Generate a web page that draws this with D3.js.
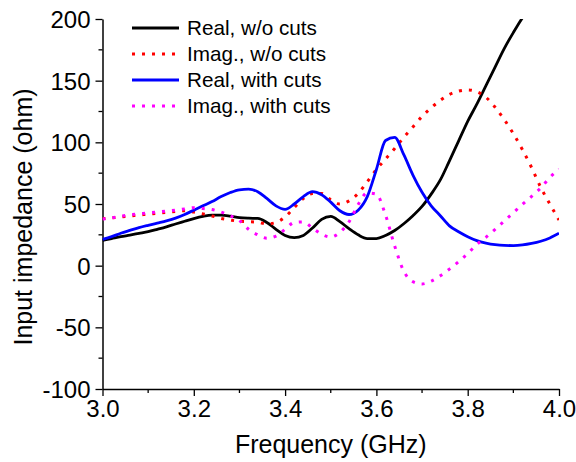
<!DOCTYPE html>
<html>
<head>
<meta charset="utf-8">
<script src="https://cdn.jsdelivr.net/npm/d3@7"></script>
<style>
  body { margin: 0; background: #fff; }
  svg { display: block; font-family: "Liberation Sans", Arial, sans-serif; }
</style>
</head>
<body>
<div id="chart"></div>
<script>
// frequency samples (GHz)
const freq = d3.range(0, 51).map(i => +(3 + i * 0.02).toFixed(2))

// input impedance values (ohm)
const realNoCuts = [20.5, 22, 23.5, 24.8, 26.2, 27.6, 29.5, 31.5, 33.8, 36,
  38.2, 40, 41, 41, 40.2, 39, 38.5, 38.3, 35, 29.5,
  24.5, 22.7, 24.5, 30.5, 37.5, 40, 35.7, 30, 25, 22,
  22, 24.5, 28.5, 34, 40.5, 48, 58, 69.5, 85, 101,
  117, 131, 146, 161, 176, 189, 201, 211, null, null, null]
const imagNoCuts = [38, 38.8, 39.5, 40.3, 41, 41.8, 42.5, 43.3, 44, 44.6,
  43.5, 42, 40.3, 38.3, 37, 36, 35.7, 35.2, 33.8, 35,
  39.5, 47, 54.5, 58.5, 58.5, 53.5, 50, 52.5, 58.5, 68,
  78, 86.5, 95, 104, 112.5, 121, 128, 134, 138.8, 141.5,
  142.5, 141, 136.5, 128.5, 118.5, 107, 94, 79.5, 63.5, 50, 37]
const realCuts = [21.4, 23.5, 26.3, 28.6, 30.8, 32.7, 34.5, 36.3, 38.5, 41.5,
  45, 48.5, 52, 56, 59.3, 61.5, 62, 60, 54.5, 48.5,
  45.7, 50, 56, 60, 57.5, 51.5, 44.5, 41.5, 45, 56,
  78, 101.5, 104, 90, 73.5, 59.5, 48.5, 40.5, 32.3, 27.5,
  23.5, 20.3, 18.3, 17, 16.4, 16.3, 16.8, 18, 19.8, 22.5, 26.3]
const imagCuts = [37.8, 38.8, 40, 41.2, 42, 42.8, 43.5, 44.2, 45, 46,
  47, 46.3, 45.5, 43.5, 40.5, 36.5, 29.5, 25, 22.3, 24,
  29.5, 35, 35.5, 30.5, 25.5, 23.2, 27, 35.5, 49.5, 59,
  58, 41, 16, -4.5, -13, -14.8, -12.5, -8.2, -2.8, 3.2,
  9.8, 17.3, 23, 29.5, 36.2, 43, 49.8, 56.2, 63, 71.5, 78.2]

const seriesNames = ["Real, w/o cuts", "Imag., w/o cuts", "Real, with cuts", "Imag., with cuts"]
const seriesValues = [realNoCuts, imagNoCuts, realCuts, imagCuts]
const seriesColors = ["#000000", "#ff0000", "#0000ff", "#ff00ff"]
const seriesDotted = [false, true, false, true]

const xTicks = [3.0, 3.2, 3.4, 3.6, 3.8, 4.0]
const yTicks = [-100, -50, 0, 50, 100, 150, 200]

const W = 576, H = 462
const margin = {top: 19, right: 17, bottom: 73, left: 102.5}
const width = W - margin.left - margin.right
const height = H - margin.top - margin.bottom

const svg = d3.select("#chart").append("svg")
  .attr("width", W)
  .attr("height", H)

const g = svg.append("g")
  .attr("transform", "translate(" + margin.left + "," + margin.top + ")")

const x = d3.scaleLinear().domain([3.0, 4.0]).range([0, width])
const y = d3.scaleLinear().domain([-100, 200]).range([height, 0])

svg.append("defs").append("clipPath").attr("id", "clip")
  .append("rect").attr("width", width).attr("height", height)

// minor ticks
const xMinor = d3.range(3.1, 4.0, 0.2)
const yMinor = d3.range(-75, 200, 50)

const xAxis = g.append("g")
  .attr("transform", "translate(0," + height + ")")
  .call(d3.axisBottom(x).tickValues(xTicks).tickFormat(d => d.toFixed(1)).tickSize(7).tickSizeOuter(0))
xAxis.append("g").selectAll("line").data(xMinor).join("line")
  .attr("x1", d => x(d)).attr("x2", d => x(d))
  .attr("y1", 0).attr("y2", 4)
  .attr("stroke", "#000").attr("stroke-width", 1.3)

const yAxis = g.append("g")
  .call(d3.axisLeft(y).tickValues(yTicks).tickFormat(d => String(d)).tickSize(7).tickSizeOuter(0))
yAxis.append("g").selectAll("line").data(yMinor).join("line")
  .attr("y1", d => y(d)).attr("y2", d => y(d))
  .attr("x1", 0).attr("x2", -4)
  .attr("stroke", "#000").attr("stroke-width", 1.3)

g.selectAll(".domain").attr("stroke", "#000").attr("stroke-width", 1.5)
g.selectAll(".tick line").attr("stroke", "#000").attr("stroke-width", 1.3)
g.selectAll(".tick text")
  .attr("font-family", "Liberation Sans, Arial, sans-serif")
  .attr("font-size", 24)
  .attr("fill", "#000")
xAxis.selectAll(".tick text").attr("dy", null).attr("y", 28)
yAxis.selectAll(".tick text").attr("dy", "0.35em").attr("x", -12)

// axis titles
svg.append("text")
  .attr("x", margin.left + width / 2)
  .attr("y", 453)
  .attr("text-anchor", "middle")
  .attr("font-size", 25)
  .text("Frequency (GHz)")

svg.append("text")
  .attr("transform", "translate(31.5,217) rotate(-90)")
  .attr("text-anchor", "middle")
  .attr("font-size", 25)
  .text("Input impedance (ohm)")

// curves
const plot = g.append("g").attr("clip-path", "url(#clip)")
seriesValues.forEach((vals, i) => {
  const pts = freq.map((f, j) => ({f: f, v: vals[j]}))
  plot.append("path")
    .datum(pts)
    .attr("fill", "none")
    .attr("stroke", seriesColors[i])
    .attr("stroke-width", seriesDotted[i] ? 3 : 2.8)
    .attr("stroke-dasharray", seriesDotted[i] ? "3,7" : null)
    .attr("stroke-linejoin", "round")
    .attr("d", d3.line()
      .defined(d => d.v !== null)
      .curve(d3.curveMonotoneX)
      .x(d => x(d.f))
      .y(d => y(d.v))
    )
})

// legend
const legend = svg.append("g")
seriesNames.forEach((name, i) => {
  const ly = 28 + i * 26
  legend.append("line")
    .attr("x1", 132).attr("x2", 179)
    .attr("y1", ly).attr("y2", ly)
    .attr("stroke", seriesColors[i])
    .attr("stroke-width", seriesDotted[i] ? 3 : 2.8)
    .attr("stroke-dasharray", seriesDotted[i] ? "3,7" : null)
  legend.append("text")
    .attr("x", 187)
    .attr("y", ly + 7.4)
    .attr("font-size", 20.7)
    .text(name)
})
</script>
</body>
</html>
